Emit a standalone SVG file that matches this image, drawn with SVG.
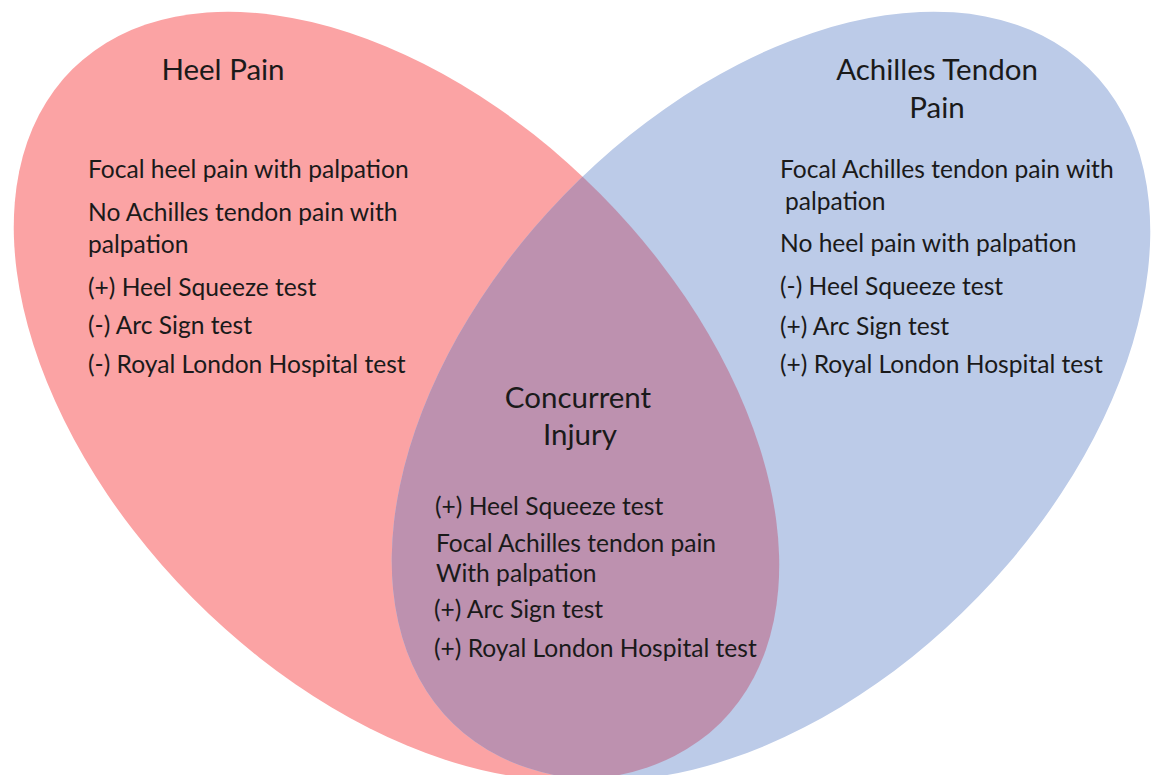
<svg xmlns="http://www.w3.org/2000/svg" width="1151" height="775" viewBox="0 0 1151 775">
  <style>
    .t { font-family: Lato, "Liberation Sans", sans-serif; fill: #1a1a1a; }
    .body { font-size: 24.6px; }
    .title { font-size: 29.5px; text-anchor: middle; }
  </style>
  <defs>
    <ellipse id="redShape" cx="396.5" cy="396" rx="460.2" ry="287" transform="rotate(45.26 396.5 396)"/>
    <ellipse id="blueShape" cx="771" cy="396" rx="456.4" ry="288.5" transform="rotate(-45.88 771 396)"/>
    <clipPath id="redClip">
      <use href="#redShape"/>
    </clipPath>
  </defs>
  <rect x="0" y="0" width="1151" height="775" fill="#ffffff"/>

  <g id="heel-pain">
    <use href="#redShape" fill="#FBA3A4"/>
  </g>
  <g id="achilles-pain">
    <use href="#blueShape" fill="#BCCBE8"/>
  </g>
  <g id="concurrent">
    <use href="#blueShape" fill="#BD91AF" clip-path="url(#redClip)"/>
  </g>

  <g id="heel-pain-text" class="t">
    <text class="title" x="223" y="80">Heel Pain</text>
    <text class="body" x="88" y="178">Focal heel pain with palpation</text>
    <text class="body" x="88" y="221">No Achilles tendon pain with</text>
    <text class="body" x="88" y="253">palpation</text>
    <text class="body" x="88" y="296">(+) Heel Squeeze test</text>
    <text class="body" x="88" y="334">(-) Arc Sign test</text>
    <text class="body" x="88" y="373">(-) Royal London Hospital test</text>
  </g>

  <g id="achilles-pain-text" class="t">
    <text class="title" x="937" y="80">Achilles Tendon</text>
    <text class="title" x="937" y="118">Pain</text>
    <text class="body" x="780" y="178">Focal Achilles tendon pain with</text>
    <text class="body" x="785" y="210">palpation</text>
    <text class="body" x="780" y="252">No heel pain with palpation</text>
    <text class="body" x="780" y="295">(-) Heel Squeeze test</text>
    <text class="body" x="780" y="335">(+) Arc Sign test</text>
    <text class="body" x="780" y="373">(+) Royal London Hospital test</text>
  </g>

  <g id="concurrent-text" class="t">
    <text class="title" x="578" y="408">Concurrent</text>
    <text class="title" x="580" y="445">Injury</text>
    <text class="body" x="435" y="515">(+) Heel Squeeze test</text>
    <text class="body" x="436" y="552">Focal Achilles tendon pain</text>
    <text class="body" x="436" y="582">With palpation</text>
    <text class="body" x="434" y="618">(+) Arc Sign test</text>
    <text class="body" x="434" y="657">(+) Royal London Hospital test</text>
  </g>
</svg>
